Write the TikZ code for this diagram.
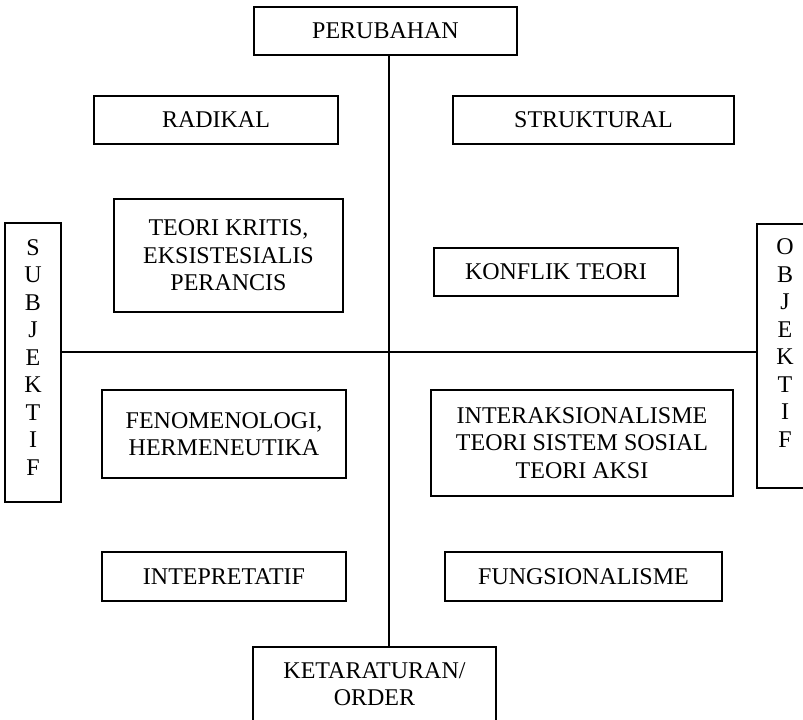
\documentclass[tikz,border=0pt]{standalone}
\usepackage{fontspec}
\setmainfont{Liberation Serif}

\begin{document}
\begin{tikzpicture}[
  x={(0.5pt,0pt)}, y={(0pt,-0.5pt)},
  line width=0.9pt,
  every node/.style={font=\fontsize{12}{13.75}\selectfont},
  box/.style={draw, rectangle, align=center, inner sep=2pt},
  letters/.style={box, minimum width=28pt}
]
  \useasboundingbox (0,0) rectangle (803,719);
  % ends of the two axes
  \node[box, minimum width=131.5pt, minimum height=24pt] (perubahan) at (385.5,31) {PERUBAHAN};
  \node[box, minimum width=121.5pt, minimum height=37pt] (ketaraturan) at (374.5,684) {KETARATURAN/\\ORDER};
  \node[letters, minimum height=139.5pt, text depth=5pt] (subjektif) at (33,362.5) {S\\U\\B\\J\\E\\K\\T\\I\\F};
  \node[letters, minimum height=132pt, text depth=13pt] (objektif) at (785,356) {O\\B\\J\\E\\K\\T\\I\\F};
  % paradigm names
  \node[box, minimum width=122pt, minimum height=24pt] (radikal) at (216,120) {RADIKAL};
  \node[box, minimum width=140.5pt, minimum height=24pt] (struktural) at (593.5,120) {STRUKTURAL};
  \node[box, minimum width=122pt, minimum height=24.5pt] (intepretatif) at (224,576.5) {INTEPRETATIF};
  \node[box, minimum width=138.5pt, minimum height=24.5pt] (fungsional) at (583.5,576.5) {FUNGSIONALISME};
  % theories in each quarter
  \node[box, minimum width=114.5pt, minimum height=56.5pt] (kritis) at (228.5,255.5) {TEORI KRITIS,\\EKSISTESIALIS\\PERANCIS};
  \node[box, minimum width=122pt, minimum height=24pt] (konflik) at (556,272) {KONFLIK TEORI};
  \node[box, minimum width=122pt, minimum height=44pt] (fenomenologi) at (224,434) {FENOMENOLOGI,\\HERMENEUTIKA};
  \node[box, minimum width=151pt, minimum height=53pt] (interaksi) at (582,443) {INTERAKSIONALISME\\TEORI SISTEM SOSIAL\\TEORI AKSI};
  % axes
  \coordinate (mid) at (389,352);
  \draw (perubahan.south -| mid) -- (ketaraturan.north -| mid);
  \draw (subjektif.east |- mid) -- (objektif.west |- mid);
\end{tikzpicture}
\end{document}
